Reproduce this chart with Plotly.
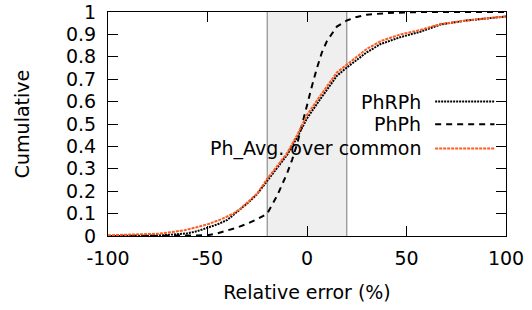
import plotly.graph_objects as go

# ---- data ----
phrph_x = [-100, -80, -75, -70, -65, -60, -55, -50, -45, -40, -37, -33, -28.5, -25, -20, -15, -10, -5, 0, 5, 10, 15, 20, 25, 30, 37, 47, 57, 67, 80, 90, 100]
phrph_y = [0.0, 0.0, 0.002, 0.005, 0.008, 0.012, 0.022, 0.036, 0.052, 0.072, 0.095, 0.122, 0.157, 0.188, 0.247, 0.305, 0.362, 0.44, 0.525, 0.59, 0.655, 0.715, 0.752, 0.785, 0.82, 0.857, 0.888, 0.912, 0.944, 0.962, 0.972, 0.98]

phph_x = [-100, -60, -55, -50, -45, -40, -35, -30, -25, -20, -15, -10, -7.5, -5, -2.5, 0, 2.5, 5, 7.5, 10, 12.5, 15, 20, 25, 30, 40, 50, 60, 80, 100]
phph_y = [0.0, 0.0, 0.001, 0.003, 0.012, 0.025, 0.038, 0.055, 0.075, 0.10, 0.18, 0.28, 0.34, 0.41, 0.50, 0.58, 0.67, 0.75, 0.82, 0.87, 0.905, 0.935, 0.962, 0.978, 0.988, 0.995, 0.998, 1.0, 1.0, 1.0]

avg_x = [-100, -90, -80, -75, -70, -62, -55, -49, -43, -37, -33, -28.5, -25, -20, -15, -10, -5, 0, 5, 10, 15, 20, 25, 30, 37, 47, 57, 67, 80, 90, 100]
avg_y = [0.003, 0.005, 0.008, 0.010, 0.015, 0.025, 0.04, 0.055, 0.075, 0.10, 0.125, 0.16, 0.19, 0.255, 0.315, 0.37, 0.45, 0.54, 0.605, 0.67, 0.73, 0.765, 0.80, 0.835, 0.87, 0.90, 0.92, 0.946, 0.962, 0.972, 0.98]

series_names = ["PhRPh", "PhPh", "Ph_Avg. over common"]
x_tickvals = [-100, -50, 0, 50, 100]
x_ticktext = ["-100", "-50", "0", "50", "100"]
y_tickvals = [0, 0.1, 0.2, 0.3, 0.4, 0.5, 0.6, 0.7, 0.8, 0.9, 1]
y_ticktext = ["0", "0.1", "0.2", "0.3", "0.4", "0.5", "0.6", "0.7", "0.8", "0.9", "1"]
band = [-20, 20]

FONT = "DejaVu Sans"
FS = 19
ORANGE = "#ff5a1f"

styles = [
    dict(color="black", width=2, dash="2px,1px"),
    dict(color="black", width=2, dash="6px,5px"),
    dict(color=ORANGE, width=2, dash="3px,1px"),
]

fig = go.Figure()
for name, xs, ys, st in zip(series_names, [phrph_x, phph_x, avg_x], [phrph_y, phph_y, avg_y], styles):
    fig.add_trace(go.Scatter(x=xs, y=ys, mode="lines", name=name, line=st, showlegend=False))

# shaded band
fig.add_shape(type="rect", xref="x", yref="y", x0=band[0], x1=band[1], y0=0, y1=1,
              fillcolor="#efefef", line=dict(width=0), layer="below")
for bx in band:
    fig.add_shape(type="line", xref="x", yref="y", x0=bx, x1=bx, y0=0, y1=1,
                  line=dict(color="#7a7a7a", width=1), layer="below")

# manual legend (text right-aligned, sample on right like gnuplot)
leg_y = [0.600, 0.499, 0.391]
for name, st, ly in zip(series_names, styles, leg_y):
    fig.add_annotation(xref="paper", yref="paper", x=0.791, y=ly, text=name, showarrow=False,
                       xanchor="right", yanchor="middle", font=dict(family=FONT, size=FS, color="black"))
    fig.add_shape(type="line", xref="paper", yref="paper", x0=0.822, x1=0.971, y0=ly, y1=ly,
                  line=st)

axis_common = dict(showline=True, linecolor="black", linewidth=1, mirror="ticks",
                   ticks="inside", ticklen=10, tickwidth=1, tickcolor="black",
                   showgrid=False, zeroline=False, automargin=False,
                   ticklabeloverflow="allow",
                   tickfont=dict(family=FONT, size=FS, color="black"))

fig.update_xaxes(range=[-100, 100], tickvals=x_tickvals, ticktext=x_ticktext,
                 title=dict(text="Relative error (%)", font=dict(family=FONT, size=FS, color="black"), standoff=17),
                 ticklabelstandoff=5, **axis_common)
fig.update_yaxes(range=[0, 1], tickvals=y_tickvals, ticktext=y_ticktext,
                 title=dict(text="Cumulative", font=dict(family=FONT, size=FS, color="black"), standoff=31),
                 ticklabelstandoff=7, **axis_common)

fig.update_layout(width=532, height=310, margin=dict(l=108, r=26.3, t=12.3, b=74.3),
                  paper_bgcolor="white", plot_bgcolor="white",
                  font=dict(family=FONT, size=FS, color="black"), showlegend=False)

# remove the default 8px page margin so the figure sits at the window origin
fig.write_html("out.html", config={"displayModeBar": False},
               post_script="document.body.style.margin='0';")
